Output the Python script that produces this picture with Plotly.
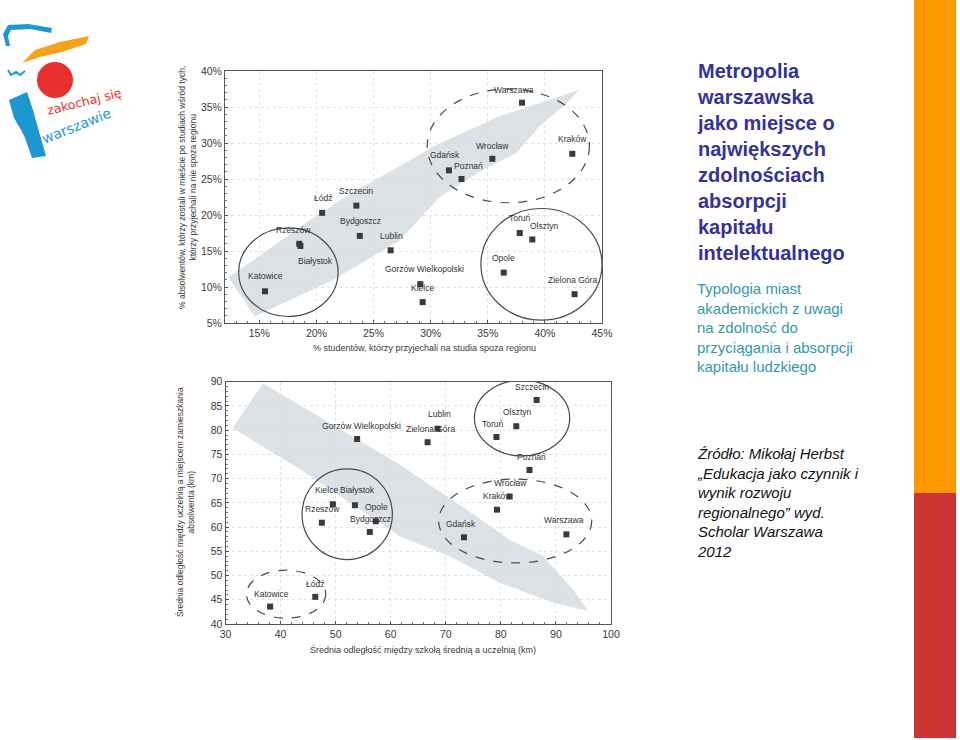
import plotly.graph_objects as go

W, H = 960, 740

# ---------------- DATA: top chart ----------------
top_cities = ["Warszawa", "Kraków", "Wrocław", "Gdańsk", "Poznań", "Szczecin", "Łódź",
              "Bydgoszcz", "Rzeszów", "Białystok", "Lublin", "Katowice",
              "Gorzów Wielkopolski", "Kielce", "Toruń", "Olsztyn", "Opole", "Zielona Góra"]
top_x = [38.0, 42.4, 35.4, 31.6, 32.7, 23.5, 20.5, 23.8, 18.5, 18.6, 26.5, 15.5,
         29.1, 29.3, 37.8, 38.9, 36.4, 42.6]
top_y = [35.6, 28.5, 27.8, 26.2, 25.0, 21.3, 20.3, 17.1, 16.0, 15.7, 15.1, 9.4,
         10.4, 7.9, 17.5, 16.6, 12.0, 9.0]
top_ticks = [5, 10, 15, 20, 25, 30, 35, 40, 45]
top_x_title = "% studentów, którzy przyjechali na studia spoza regionu"
top_y_title = "% absolwentów, którzy zostali w mieście po studiach wśród tych,<br>którzy przyjechali na nie spoza regionu"

# shaded trend band (top chart)
band_top_x = [12.3, 15.0, 18.6, 23.0, 28.2, 30.2, 36.0, 40.4, 43.0,
              41.9, 39.5, 37.5, 34.6, 30.8, 27.3, 21.5, 14.6]
band_top_y = [11.4, 14.3, 18.4, 23.0, 27.6, 29.5, 33.7, 36.0, 37.4,
              35.5, 32.3, 28.6, 26.3, 22.5, 16.5, 11.0, 5.9]

# group ellipses (top chart): x0, x1, y0, y1, dashed
top_groups = [(13.2, 21.9, 5.9, 18.2, False),
              (29.7, 43.9, 21.7, 37.5, True),
              (34.4, 45.0, 5.4, 20.9, False)]

# ---------------- DATA: bottom chart ----------------
bot_cities = ["Szczecin", "Olsztyn", "Toruń", "Lublin", "Zielona Góra", "Gorzów Wielkopolski",
              "Poznań", "Wrocław", "Kraków", "Warszawa", "Gdańsk", "Kielce", "Białystok",
              "Rzeszów", "Opole", "Bydgoszcz", "Łódź", "Katowice"]
bot_x = [86.5, 82.8, 79.2, 68.5, 66.7, 53.9, 85.2, 81.6, 79.3, 91.9, 73.3, 49.5, 53.5,
         47.5, 57.3, 56.2, 46.3, 38.1]
bot_y = [86.2, 80.8, 78.6, 80.3, 77.5, 78.2, 71.8, 66.3, 63.6, 58.5, 57.9, 64.7, 64.5,
         60.9, 61.2, 59.0, 45.6, 43.6]
bot_xticks = [30, 40, 50, 60, 70, 80, 90, 100]
bot_yticks = [40, 45, 50, 55, 60, 65, 70, 75, 80, 85, 90]
bot_x_title = "Średnia odległość między szkołą średnią a uczelnią (km)"
bot_y_title = "Średnia odległość między uczelnią a miejscem zamieszkania<br>absolwenta (km)"

band_bot_x = [31.3, 36.8, 61.6, 73.8, 81.6, 87.7, 93.1, 95.9,
              89.5, 79.8, 70.7, 61.6, 43.5]
band_bot_y = [80.4, 89.7, 72.9, 63.6, 57.4, 54.0, 47.1, 42.7,
              44.4, 48.5, 54.0, 58.1, 72.0]

bot_groups = [(75.2, 92.5, 74.7, 90.3, False),
              (43.9, 60.3, 53.3, 72.0, False),
              (68.7, 96.5, 52.6, 69.9, True),
              (33.8, 48.2, 41.2, 51.1, True)]

# ---------------- TEXT ----------------
title_lines = ["Metropolia", "warszawska", "jako miejsce o", "największych",
               "zdolnościach", "absorpcji", "kapitału", "intelektualnego"]
subtitle_lines = ["Typologia miast", "akademickich z uwagi", "na zdolność do",
                  "przyciągania i absorpcji", "kapitału ludzkiego"]
source_lines = ["Źródło: Mikołaj Herbst", "„Edukacja jako czynnik i", "wynik rozwoju",
                "regionalnego” wyd.", "Scholar Warszawa", "2012"]

# ---------------- label offsets (px) ----------------
top_dx = [-8, 0, 0, -4, 7, 0, 1, 1, -6, 15, 1, 1, 4, 0, 0, 12, 0, -2]
top_dy = [6, 8, 6, 8, 6, 8, 8, 8, 7, -8, 7, 8, 8, 7, 8, 6, 8, 7]
bot_dx = [-5, 1, -3, 2, 3, 4, 2, 1, 0, -2, -3, -6, 3, 1, 1, 1, 0, 1]
bot_dy = [6, 7, 6, 8, 6, 6, 6, 7, 7, 7, 6, 7, 8, 7, 7, 6, 6, 6]

# ---------------- helpers ----------------
def px(x):
    return x / W

def py(y):
    return 1 - y / H

def ppath(points, close=True):
    s = "M " + " L ".join(f"{px(a):.5f},{py(b):.5f}" for a, b in points)
    return s + (" Z" if close else "")

BAND = "rgba(214,220,226,0.85)"
MARK = "#3a3a3a"
FAM = "Liberation Sans, Arial, sans-serif"
LBL = dict(size=8.5, color="#333", family=FAM)
TICKF = dict(size=10.5, color="#3a3a3a", family=FAM)
AXT = dict(size=9, color="#3a3a3a", family=FAM)

fig = go.Figure()

fig.add_trace(go.Scatter(x=band_top_x, y=band_top_y, fill="toself", fillcolor=BAND,
                         line=dict(width=0), mode="lines", hoverinfo="skip",
                         xaxis="x", yaxis="y", showlegend=False))
fig.add_trace(go.Scatter(x=band_bot_x, y=band_bot_y, fill="toself", fillcolor=BAND,
                         line=dict(width=0), mode="lines", hoverinfo="skip",
                         xaxis="x2", yaxis="y2", showlegend=False))

fig.add_trace(go.Scatter(x=top_x, y=top_y, text=top_cities, mode="markers",
                         marker=dict(symbol="square", size=6, color=MARK),
                         xaxis="x", yaxis="y", showlegend=False))
fig.add_trace(go.Scatter(x=bot_x, y=bot_y, text=bot_cities, mode="markers",
                         marker=dict(symbol="square", size=6, color=MARK),
                         xaxis="x2", yaxis="y2", showlegend=False))

shapes = []
for (x0, x1, y0, y1, dashed) in top_groups:
    shapes.append(dict(type="circle", xref="x", yref="y", x0=x0, x1=x1, y0=y0, y1=y1,
                       line=dict(color="#4a4a4a", width=1.2, dash="dash" if dashed else "solid")))
for (x0, x1, y0, y1, dashed) in bot_groups:
    shapes.append(dict(type="circle", xref="x2", yref="y2", x0=x0, x1=x1, y0=y0, y1=y1,
                       line=dict(color="#4a4a4a", width=1.2, dash="dash" if dashed else "solid")))

# right side colour bars
shapes.append(dict(type="rect", xref="paper", yref="paper", x0=px(914), x1=px(956),
                   y0=py(493), y1=py(0), fillcolor="#FF9900", line=dict(width=0)))
shapes.append(dict(type="rect", xref="paper", yref="paper", x0=px(914), x1=px(956),
                   y0=py(738), y1=py(493), fillcolor="#CC3333", line=dict(width=0)))

# logo (approximation)
BLUE = "#1E96D2"
shapes.append(dict(type="path", xref="paper", yref="paper",
                   path=ppath([(6, 46), (3, 34), (8, 25), (28, 24), (52, 28), (51, 33),
                               (30, 29), (11, 30), (8, 36), (10, 46)]),
                   fillcolor=BLUE, line=dict(width=0)))
shapes.append(dict(type="path", xref="paper", yref="paper",
                   path=ppath([(22, 63), (35, 50), (60, 42), (89, 36), (86, 44),
                               (62, 52), (40, 57)]),
                   fillcolor="#F7A21B", line=dict(width=0)))
shapes.append(dict(type="circle", xref="paper", yref="paper",
                   x0=px(37), x1=px(73), y0=py(98), y1=py(62),
                   fillcolor="#E8302E", line=dict(width=0)))
shapes.append(dict(type="path", xref="paper", yref="paper",
                   path=ppath([(9, 100), (27, 92), (33, 110), (40, 135), (46, 156),
                               (32, 158), (24, 135), (14, 118)]),
                   fillcolor=BLUE, line=dict(width=0)))
shapes.append(dict(type="path", xref="paper", yref="paper",
                   path=ppath([(8, 70), (11, 75), (16, 72), (20, 75), (25, 71)], close=False),
                   line=dict(color=BLUE, width=2)))

annotations = []
# point labels
for name, x, y, dx, dy in zip(top_cities, top_x, top_y, top_dx, top_dy):
    annotations.append(dict(x=x, y=y, xref="x", yref="y", text=name, showarrow=False,
                            xshift=dx, yshift=dy, xanchor="center",
                            yanchor="bottom" if dy > 0 else "top", font=LBL))
for name, x, y, dx, dy in zip(bot_cities, bot_x, bot_y, bot_dx, bot_dy):
    annotations.append(dict(x=x, y=y, xref="x2", yref="y2", text=name, showarrow=False,
                            xshift=dx, yshift=dy, xanchor="center",
                            yanchor="bottom" if dy > 0 else "top", font=LBL))

# axis titles
annotations.append(dict(x=px(424), y=py(348), xref="paper", yref="paper", text=top_x_title,
                        showarrow=False, font=AXT, xanchor="center", yanchor="middle"))
annotations.append(dict(x=px(187), y=py(188), xref="paper", yref="paper", text=top_y_title,
                        showarrow=False, font=dict(AXT, size=8.5), textangle=-90,
                        xanchor="center", yanchor="middle"))
annotations.append(dict(x=px(423), y=py(649), xref="paper", yref="paper", text=bot_x_title,
                        showarrow=False, font=AXT, xanchor="center", yanchor="middle"))
annotations.append(dict(x=px(185), y=py(502), xref="paper", yref="paper", text=bot_y_title,
                        showarrow=False, font=dict(AXT, size=8.5), textangle=-90,
                        xanchor="center", yanchor="middle"))

# slide texts
annotations.append(dict(x=px(695), y=py(58), xref="paper", yref="paper",
                        text="<b>" + "<br>".join(title_lines) + "</b>", showarrow=False,
                        align="left", xanchor="left", yanchor="top",
                        font=dict(size=20, color="#333399", family=FAM)))
annotations.append(dict(x=px(695), y=py(278), xref="paper", yref="paper",
                        text="<br>".join(subtitle_lines), showarrow=False,
                        align="left", xanchor="left", yanchor="top",
                        font=dict(size=15, color="#3399AA", family=FAM)))
annotations.append(dict(x=px(695), y=py(443), xref="paper", yref="paper",
                        text="<i>" + "<br>".join(source_lines) + "</i>", showarrow=False,
                        align="left", xanchor="left", yanchor="top",
                        font=dict(size=15, color="#111", family=FAM)))

# logo texts
annotations.append(dict(x=px(84), y=py(101), xref="paper", yref="paper",
                        text="zakochaj się", showarrow=False, textangle=-14,
                        xanchor="center", yanchor="middle",
                        font=dict(size=12.5, color="#E8302E", family="DejaVu Sans, sans-serif")))
annotations.append(dict(x=px(27), y=py(133), xref="paper", yref="paper",
                        text="w", showarrow=False, textangle=-20,
                        xanchor="center", yanchor="middle",
                        font=dict(size=13, color=BLUE, family="DejaVu Sans, sans-serif")))
annotations.append(dict(x=px(76), y=py(126), xref="paper", yref="paper",
                        text="warszawie", showarrow=False, textangle=-22,
                        xanchor="center", yanchor="middle",
                        font=dict(size=14, color=BLUE, family="DejaVu Sans, sans-serif")))

axis_common = dict(showline=True, linecolor="#555", linewidth=1, mirror=True,
                   showgrid=True, gridcolor="#e2e2e2", griddash="dot", gridwidth=1,
                   zeroline=False, ticks="inside", ticklen=3, tickcolor="#555",
                   tickfont=TICKF, automargin=False)

fig.update_layout(
    width=W, height=H, margin=dict(l=0, r=0, t=0, b=0, pad=0, autoexpand=False),
    paper_bgcolor="white", plot_bgcolor="white", showlegend=False,
    xaxis=dict(axis_common, domain=[px(225), px(602)], range=[12, 45], anchor="y",
               tickvals=top_ticks[2:], ticktext=[f"{v}%" for v in top_ticks[2:]],
               minor=dict(ticks="inside", ticklen=2, dtick=1, tickcolor="#777", showgrid=False)),
    yaxis=dict(axis_common, domain=[py(323), py(71)], range=[5, 40], anchor="x",
               tickvals=top_ticks[:8], ticktext=[f"{v}%" for v in top_ticks[:8]],
               minor=dict(ticks="inside", ticklen=2, dtick=1, tickcolor="#777", showgrid=False)),
    xaxis2=dict(axis_common, domain=[px(225.5), px(611)], range=[30, 100], anchor="y2",
                tickvals=bot_xticks,
                minor=dict(ticks="inside", ticklen=2, dtick=2, tickcolor="#777", showgrid=False)),
    yaxis2=dict(axis_common, domain=[py(624), py(381.7)], range=[40, 90], anchor="x2",
                tickvals=bot_yticks,
                minor=dict(ticks="inside", ticklen=2, dtick=1, tickcolor="#777", showgrid=False)),
    shapes=shapes, annotations=annotations,
)

fig.write_html("out.html", config={"displayModeBar": False},
               post_script="document.body.style.margin='0';document.body.style.padding='0';"
                           "document.body.style.overflow='hidden';")
